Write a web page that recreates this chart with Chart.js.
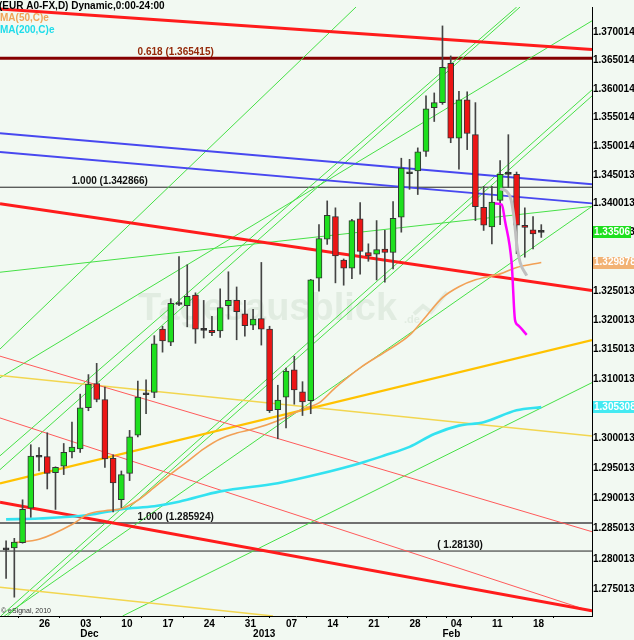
<!DOCTYPE html>
<html lang="en">
<head>
<meta charset="UTF-8">
<title>EUR A0-FX Daily</title>
<script src="https://cdn.jsdelivr.net/npm/chart.js"></script>
<style>
  body { margin: 0; background: #f2f9f2; }
  #chart { display: block; }
</style>
</head>
<body>
<canvas id="chart" width="634" height="640"></canvas>
<script>
// one entry per daily candle (x axis value = index in this list)
const dates = [
  '2012-11-20','2012-11-21','2012-11-22','2012-11-23','2012-11-26','2012-11-27','2012-11-28','2012-11-29','2012-11-30',
  '2012-12-03','2012-12-04','2012-12-05','2012-12-06','2012-12-07','2012-12-10','2012-12-11','2012-12-12','2012-12-13','2012-12-14',
  '2012-12-17','2012-12-18','2012-12-19','2012-12-20','2012-12-21','2012-12-24','2012-12-25','2012-12-26','2012-12-27','2012-12-28','2012-12-31',
  '2013-01-01','2013-01-02','2013-01-03','2013-01-04','2013-01-07','2013-01-08','2013-01-09','2013-01-10','2013-01-11',
  '2013-01-14','2013-01-15','2013-01-16','2013-01-17','2013-01-18','2013-01-21','2013-01-22','2013-01-23','2013-01-24','2013-01-25',
  '2013-01-28','2013-01-29','2013-01-30','2013-01-31','2013-02-01','2013-02-04','2013-02-05','2013-02-06','2013-02-07','2013-02-08',
  '2013-02-11','2013-02-12','2013-02-13','2013-02-14','2013-02-15','2013-02-18','2013-02-19'
];
const open = [1.2815,1.2818,1.2827,1.2884,1.2969,1.2970,1.2943,1.2954,1.2978,1.2983,
  1.3052,1.3093,1.3066,1.2967,1.2898,1.2942,1.3006,1.3074,1.3078,1.3185,
  1.3163,1.3227,1.3225,1.3243,1.3183,1.3183,1.3182,1.3225,1.3234,1.3211,
  1.3192,1.3203,1.3185,1.3049,1.3070,1.3116,1.3079,1.3064,1.3272,1.3339,
  1.3378,1.3303,1.3289,1.3374,1.3316,1.3313,1.3322,1.3316,1.3377,1.3452,
  1.3457,1.3491,1.3567,1.3576,1.3645,1.3514,1.3581,1.3520,1.3394,1.3360,
  1.3406,1.3451,1.3451,1.3363,1.3355,1.33506];
const high = [1.2830,1.2834,1.2898,1.2990,1.2985,1.3010,1.2953,1.2992,1.3028,1.3075,
  1.3108,1.3127,1.3087,1.2973,1.2946,1.3014,1.3097,1.3099,1.3174,1.3190,
  1.3237,1.3309,1.3295,1.3247,1.3234,1.3207,1.3254,1.3283,1.3257,1.3234,
  1.3219,1.3299,1.3190,1.3090,1.3119,1.3139,1.3096,1.3270,1.3364,1.3405,
  1.3393,1.3305,1.3373,1.3402,1.3331,1.3371,1.3354,1.3404,1.3479,1.3477,
  1.3497,1.3588,1.3593,1.3711,1.3658,1.3596,1.3595,1.3576,1.3430,1.3430,
  1.3475,1.3520,1.3455,1.3393,1.3378,1.3364];
const low = [1.2768,1.2737,1.2826,1.2869,1.2946,1.2916,1.2882,1.2940,1.2968,1.2977,
  1.3047,1.3062,1.2952,1.2878,1.2885,1.2930,1.3003,1.3042,1.3069,1.3146,
  1.3157,1.3225,1.3189,1.3161,1.3170,1.3174,1.3171,1.3202,1.3167,1.3173,
  1.3184,1.3158,1.3044,1.3000,1.3018,1.3058,1.3039,1.3042,1.3250,1.3330,
  1.3264,1.3260,1.3271,1.3279,1.3301,1.3269,1.3265,1.3288,1.3351,1.3425,
  1.3416,1.3482,1.3543,1.3573,1.3506,1.3460,1.3494,1.3371,1.3354,1.3331,
  1.3364,1.3428,1.3314,1.3308,1.3322,1.3342];
const close = [1.2815,1.2828,1.2882,1.2971,1.2969,1.2942,1.2952,1.2977,1.2986,1.3052,
  1.3092,1.3066,1.2966,1.2926,1.2940,1.3003,1.3070,1.3074,1.3160,1.3165,
  1.3229,1.3227,1.3241,1.3185,1.3183,1.3179,1.3222,1.3234,1.3215,1.3191,
  1.3202,1.3185,1.3047,1.3065,1.3114,1.3082,1.3062,1.3269,1.3340,1.3380,
  1.3310,1.3289,1.3371,1.3318,1.3310,1.3321,1.3316,1.3375,1.3462,1.3452,
  1.3490,1.3565,1.3576,1.3638,1.3514,1.3581,1.3522,1.3395,1.3363,1.3403,
  1.3451,1.3451,1.3363,1.3359,1.3348,1.33506];

// moving averages, read at some candles
const ma50Idx = [1,4,8,10,12,14,16,18,20,22,24,26,28,30,33,36,38,40,43,46,49,51,53,55,57,60,62,65];
const ma50 = [1.28267,1.28324,1.28570,1.28742,1.28799,1.28832,1.28972,1.29186,1.29409,1.29615,1.29830,1.29996,1.30095,1.30162,
  1.30303,1.30494,1.30602,1.30861,1.31195,1.31462,1.31748,1.32067,1.32388,1.32574,1.32692,1.32794,1.32904,1.329878];
const ma200Idx = [0,4,10,14,18,21,26,33,38,43,46,49,52,55,58,62,65];
const ma200 = [1.28655,1.28668,1.28726,1.28824,1.28873,1.28947,1.29120,1.29257,1.29409,1.29590,1.29722,1.29863,1.30079,
  1.30220,1.30278,1.30477,1.305308];

// projection curves at the right
const magentaIdx = [59.38,60.20,60.60,61.41,61.81,62.14,63.23];
const magenta = [1.34004,1.33984,1.33699,1.32963,1.32005,1.31921,1.31753];
const greyIdx = [59.99,60.72,61.33,61.69,62.02,62.42,63.23];
const grey = [1.34258,1.34224,1.34069,1.33762,1.33302,1.32997,1.32765];

// trend lines: [fromIdx, fromValue, toIdx, toValue]
const redThick = [[-0.74,1.37408,71.16,1.36695],[-0.74,1.34001,71.16,1.32511],[-0.74,1.28939,71.16,1.27147]];
const redThin = [[-0.74,1.31392,71.16,1.28450],[-0.74,1.30349,71.16,1.27131]];
const blueLines = [[-0.74,1.35225,71.16,1.34338],[-0.74,1.34898,71.16,1.34006]];
const goldLines = [[-0.74,1.29252,71.16,1.31664]];
const yellowLines = [[-0.74,1.31066,71.16,1.30046],[-0.74,1.27535,32.42,1.27061]];
const greenLines = [
  [-0.74,1.32822,71.16,1.33955],
  [-0.22,1.27061,71.16,1.33955],
  [-0.74,1.31028,71.16,1.37200],
  [-0.74,1.31513,42.50,1.37445],
  [-0.74,1.29714,62.02,1.37445],
  [-0.74,1.29483,62.42,1.37445],
  [-0.64,1.27061,71.16,1.35983],
  [0.16,1.27061,71.16,1.35877],
  [14.15,1.27061,71.16,1.30944]
];

// fibonacci levels
const fibLevels = [1.365415, 1.342866, 1.285924, 1.28130];
const fibText = ['0.618 (1.365415)', '1.000 (1.342866)', '1.000 (1.285924)', '( 1.28130)'];

const yTicks = [1.370014,1.365014,1.360014,1.355014,1.350014,1.345013,1.340013,1.335013,1.330013,1.325013,
  1.320013,1.315013,1.310013,1.305013,1.300013,1.295013,1.290013,1.285013,1.280013,1.275013];

const xMin = -0.74, xMax = 71.16;
const yMin = 1.27061, yMax = 1.37445;
const FONT = 'Arial, "Liberation Sans", sans-serif';

const dayOf = d => new Date(d + 'T00:00:00Z').getUTCDay();
const monthNames = ['Jan','Feb','Mar','Apr','May','Jun','Jul','Aug','Sep','Oct','Nov','Dec'];
const mondayIdx = dates.map((d, i) => dayOf(d) === 1 ? i : -1).filter(i => i >= 0);
const monthIdx = dates.map((d, i) => i > 0 && d.slice(5, 7) !== dates[i - 1].slice(5, 7) ? i : -1).filter(i => i >= 0);
function monthLabel(i) {
  const m = +dates[i].slice(5, 7);
  return m === 1 ? dates[i].slice(0, 4) : monthNames[m - 1];
}

function seg(s, color, width, order) {
  return {
    type: 'line', data: [{x: s[0], y: s[1]}, {x: s[2], y: s[3]}],
    borderColor: color, borderWidth: width, pointRadius: 0, fill: false, order: order
  };
}
function curve(xs, ys, color, width, order, tension) {
  return {
    type: 'line', data: xs.map((x, i) => ({x: x, y: ys[i]})),
    borderColor: color, borderWidth: width, pointRadius: 0, fill: false, order: order,
    tension: tension, cubicInterpolationMode: 'monotone'
  };
}

const bodyColor = dates.map((d, i) => close[i] > open[i] ? '#1ee01e' : (close[i] < open[i] ? '#ec1515' : '#222'));

const datasets = [
  curve(magentaIdx, magenta, '#ff00ff', 2.5, 0, 0),
  curve(greyIdx, grey, '#c0c0c0', 3, 0, 0.4),
  {
    type: 'bar', data: dates.map((d, i) => ({x: i, y: [open[i], close[i]]})),
    backgroundColor: bodyColor, borderColor: '#333', borderWidth: 1, borderSkipped: false,
    barThickness: 6, minBarLength: 2, grouped: false, order: 1
  },
  {
    type: 'bar', data: dates.map((d, i) => ({x: i, y: [low[i], high[i]]})),
    backgroundColor: '#444', borderWidth: 0, barThickness: 1, grouped: false, order: 2
  },
  curve(ma50Idx, ma50, '#f2a055', 1.6, 3, 0.3),
  curve(ma200Idx, ma200, '#33e2f0', 2.6, 3, 0.3)
];
redThick.forEach(s => datasets.push(seg(s, '#ff1c1c', 3, 4)));
redThin.forEach(s => datasets.push(seg(s, '#ff5a5a', 1, 5)));
blueLines.forEach(s => datasets.push(seg(s, '#4848f0', 1.8, 5)));
goldLines.forEach(s => datasets.push(seg(s, '#ffc200', 2.2, 5)));
yellowLines.forEach(s => datasets.push(seg(s, '#f2d650', 1.5, 6)));
greenLines.forEach(s => datasets.push(seg(s, '#46e046', 1, 6)));
const fibStyle = [['#850000', 3], ['#222', 1], ['#707070', 2], ['#222', 1]];
fibLevels.forEach((v, i) => datasets.push(seg([xMin, v, xMax, v], fibStyle[i][0], fibStyle[i][1], 7)));

// where the fib texts sit (candle index) and how they are aligned
const fibLabelAt = [[20.6, 'center', '#952a0a'], [12.6, 'center', '#111'], [20.6, 'center', '#111'], [57.9, 'right', '#111']];

const overlay = {
  id: 'overlay',
  beforeDatasetsDraw(chart) {
    const ctx = chart.ctx;
    ctx.save();
    ctx.fillStyle = 'rgba(150,175,150,0.18)';
    ctx.font = 'bold 38px ' + FONT;
    ctx.textBaseline = 'alphabetic';
    ctx.fillText('Tagesausblick', 138, 320);
    ctx.font = 'bold 11px ' + FONT;
    ctx.fillText('.de', 404, 323);
    ctx.strokeStyle = 'rgba(150,175,150,0.18)';
    ctx.lineWidth = 4;
    ctx.beginPath();
    ctx.moveTo(414, 314); ctx.lineTo(423, 306); ctx.lineTo(431, 312); ctx.lineTo(447, 292);
    ctx.stroke();
    ctx.restore();
  },
  afterDatasetsDraw(chart) {
    const ctx = chart.ctx, xs = chart.scales.x, ys = chart.scales.y;
    ctx.save();
    ctx.font = 'bold 10px ' + FONT;
    ctx.textBaseline = 'middle';
    fibLevels.forEach((v, i) => {
      ctx.fillStyle = fibLabelAt[i][2];
      ctx.textAlign = fibLabelAt[i][1];
      ctx.fillText(fibText[i], xs.getPixelForValue(fibLabelAt[i][0]), ys.getPixelForValue(v) - 6);
    });
    ctx.restore();
  },
  afterDraw(chart) {
    const ctx = chart.ctx, ys = chart.scales.y, area = chart.chartArea;
    ctx.save();
    ctx.font = 'bold 10px ' + FONT;
    ctx.textBaseline = 'middle';
    ctx.textAlign = 'left';
    // last values on the price axis
    const boxes = [
      [close[close.length - 1], close[close.length - 1].toFixed(5), '#1ee01e', 38],
      [ma50[ma50.length - 1], ma50[ma50.length - 1].toFixed(6), '#f2b274', 41],
      [ma200[ma200.length - 1], ma200[ma200.length - 1].toFixed(6), '#44eaf2', 42]
    ];
    boxes.forEach(b => {
      const y = ys.getPixelForValue(b[0]);
      ctx.fillStyle = b[2];
      ctx.fillRect(area.right + 1, Math.round(y) - 6, b[3], 12);
      ctx.fillStyle = '#fff';
      ctx.fillText(b[1], area.right + 2, y);
    });
    // header
    ctx.fillStyle = '#000';
    ctx.fillText('(EUR A0-FX,D) Dynamic,0:00-24:00', -1, 6);
    ctx.fillStyle = '#f0a458';
    ctx.fillText('MA(50,C)e', 0, 18);
    ctx.fillStyle = '#1fdcea';
    ctx.fillText('MA(200,C)e', 0, 30);
    ctx.fillStyle = '#333';
    ctx.font = '7px ' + FONT;
    ctx.fillText('\u00a9 eSignal, 2010', 1, 611);
    ctx.restore();
  }
};

new Chart(document.getElementById('chart'), {
  type: 'bar',
  data: {datasets: datasets},
  plugins: [overlay],
  options: {
    responsive: false,
    animation: false,
    devicePixelRatio: 1,
    layout: {padding: 0},
    plugins: {legend: {display: false}, tooltip: {enabled: false}},
    scales: {
      x: {
        type: 'linear', position: 'bottom', min: xMin, max: xMax, offset: false, weight: 0,
        grid: {display: true, drawOnChartArea: false, drawTicks: true, tickLength: 2, color: '#000'},
        border: {display: true, color: '#000', width: 1},
        afterBuildTicks: s => { s.ticks = mondayIdx.concat(monthIdx.filter(i => !mondayIdx.includes(i))).sort((a, b) => a - b).map(v => ({value: v})); },
        afterFit: s => { s.height = 12; },
        ticks: {
          autoSkip: false, maxRotation: 0, align: 'start', padding: 0, color: '#000',
          font: {family: FONT, size: 10, weight: 'bold'},
          callback: v => mondayIdx.includes(v) ? dates[v].slice(8, 10) : ''
        }
      },
      x2: {
        type: 'linear', position: 'bottom', min: xMin, max: xMax, offset: false, weight: 1,
        grid: {display: false, drawTicks: false},
        border: {display: false},
        afterBuildTicks: s => { s.ticks = monthIdx.map(v => ({value: v})); },
        afterFit: s => { s.height = 12; },
        ticks: {
          autoSkip: false, maxRotation: 0, align: 'start', padding: 0, color: '#000',
          font: {family: FONT, size: 10, weight: 'bold'},
          callback: v => monthLabel(v)
        }
      },
      y: {
        type: 'logarithmic', position: 'right', min: yMin, max: yMax,
        grid: {display: false, drawTicks: false},
        border: {display: true, color: '#000', width: 1},
        afterBuildTicks: s => { s.ticks = yTicks.map(v => ({value: v})); },
        afterFit: s => { s.width = 42; },
        ticks: {
          autoSkip: false, padding: 1, color: '#000',
          font: {family: FONT, size: 10, weight: 'bold'},
          callback: v => v.toFixed(6)
        }
      }
    }
  }
});
</script>
</body>
</html>
